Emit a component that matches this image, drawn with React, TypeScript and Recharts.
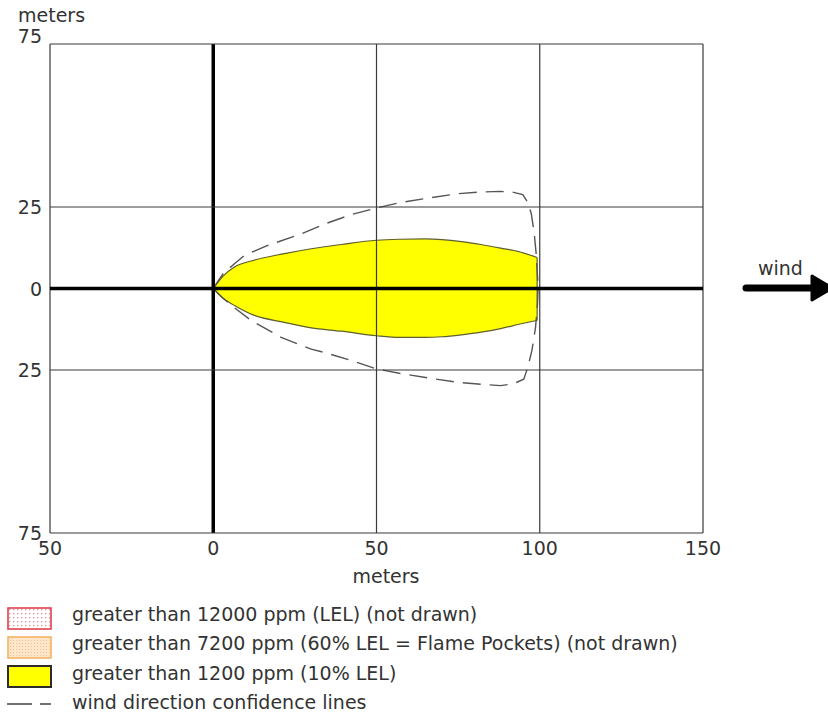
import { ComposedChart, Area, Line, XAxis, YAxis, ReferenceLine } from 'recharts'

const X_TICKS = [-50, 0, 50, 100, 150]
const Y_TICKS = [-75, -25, 0, 25, 75]

// > 1200 ppm plume: downwind distance, upper edge, lower edge (meters)
const plumeX = [0, 3, 6.5, 12.2, 21.8, 30, 39.2, 50, 57, 65, 70, 76, 82, 88, 94, 99.2]
const plumeHi = [0, 3.8, 6.6, 8.6, 10.7, 12.2, 13.5, 14.8, 15.1, 15.2, 15.0, 14.4, 13.5, 12.4, 11.2, 9.5]
const plumeLo = [0, -3, -5.2, -8.1, -10.4, -12.1, -13.1, -14.5, -15, -15, -14.8, -14.2, -13.4, -12.3, -10.9, -9.8]

// wind direction confidence lines, traced round from the source and back
const confX = [0, 3, 6.5, 9.6, 16.7, 27, 35, 42, 50, 57, 65, 75, 82, 88, 92, 94.8, 96.3, 97.4, 98.3, 98.9, 99.3, 99.5, 99.3, 98.7, 97.6, 96.4, 95.1, 92, 88, 82, 75, 65, 57, 50, 42, 34, 30, 20.8, 11.6, 6.5, 3, 0]
const confY = [0, 4.5, 7.6, 10.2, 13.2, 16.8, 20.1, 22.6, 24.7, 26.3, 27.6, 29.1, 29.6, 29.8, 29.5, 28.8, 26.5, 23, 17, 10.7, 4, 0, -5, -12, -19, -24, -27.8, -29.2, -29.8, -29.4, -28.8, -27.3, -26, -24.7, -22, -19.6, -18.6, -15, -9.8, -5.9, -3, 0]

const LEGEND = [
  'greater than 12000 ppm (LEL) (not drawn)',
  'greater than 7200 ppm (60% LEL = Flame Pockets) (not drawn)',
  'greater than 1200 ppm (10% LEL)',
  'wind direction confidence lines',
]

const FONT = 'DejaVu Sans, Verdana, sans-serif'
const TEXT = '#333'

const plume = plumeX.map((x, i) => ({ x, band: [plumeLo[i], plumeHi[i]] }))
const conf = confX.map((x, i) => ({ x, y: confY[i] }))
const last = plumeX.length - 1
const plumeEnd = [
  { x: plumeX[last], y: plumeHi[last] },
  { x: plumeX[last], y: plumeLo[last] },
]

const XTick = ({ x, y, payload }: any) => (
  <text x={x} y={y + 22} textAnchor="middle" fontSize={19} fontFamily={FONT} fill={TEXT}>
    {Math.abs(payload.value)}
  </text>
)

const YTick = ({ x, y, payload }: any) => (
  <text x={x} y={payload.value === 75 ? y - 1 : y + 7} textAnchor="end" fontSize={19} fontFamily={FONT} fill={TEXT}>
    {Math.abs(payload.value)}
  </text>
)

export default function App() {
  return (
    <div style={{ position: 'absolute', left: 0, top: 0, width: 828, height: 718, background: '#fff' }}>
      <ComposedChart width={828} height={718} margin={{ top: 44, right: 125, bottom: 145, left: 8 }}>
        <XAxis
          dataKey="x"
          type="number"
          domain={[-50, 150]}
          ticks={X_TICKS}
          interval={0}
          allowDataOverflow
          axisLine={false}
          tickLine={false}
          tickSize={0}
          tickMargin={0}
          height={40}
          tick={<XTick />}
        />
        <YAxis
          type="number"
          domain={[-75, 75]}
          ticks={Y_TICKS}
          interval={0}
          allowDataOverflow
          axisLine={false}
          tickLine={false}
          tickSize={0}
          tickMargin={8}
          width={42}
          tick={<YTick />}
        />
        <Area
          data={plume}
          dataKey="band"
          type="monotone"
          fill="#ffff00"
          fillOpacity={1}
          stroke="#5e5e2e"
          strokeWidth={1.2}
          isAnimationActive={false}
          dot={false}
          activeDot={false}
        />
        <Line
          data={plumeEnd}
          dataKey="y"
          type="linear"
          stroke="#5e5e2e"
          strokeWidth={1.2}
          dot={false}
          activeDot={false}
          isAnimationActive={false}
        />
        <Line
          data={conf}
          dataKey="y"
          type="linear"
          stroke="#555"
          strokeWidth={1.4}
          strokeDasharray="18 9"
          dot={false}
          activeDot={false}
          isAnimationActive={false}
        />
        {X_TICKS.map((t) => (
          <ReferenceLine
            key={'x' + t}
            x={t}
            stroke={t === 0 ? '#000' : '#3a3a3a'}
            strokeWidth={t === 0 ? 3.5 : 1.2}
          />
        ))}
        {Y_TICKS.map((t) => (
          <ReferenceLine
            key={'y' + t}
            y={t}
            stroke={t === 0 ? '#000' : '#3a3a3a'}
            strokeWidth={t === 0 ? 3.5 : 1.2}
          />
        ))}
      </ComposedChart>

      <svg
        width={828}
        height={718}
        style={{ position: 'absolute', left: 0, top: 0, pointerEvents: 'none' }}
        fontFamily={FONT}
      >
        <defs>
          <pattern id="dotsRed" width="4" height="4" patternUnits="userSpaceOnUse">
            <rect width="4" height="4" fill="#fff" />
            <rect x="1" y="1" width="1.3" height="1.3" fill="#e88a96" />
          </pattern>
          <pattern id="dotsOrange" width="3" height="3" patternUnits="userSpaceOnUse">
            <rect width="3" height="3" fill="#fde6c9" />
            <rect x="1" y="1" width="1" height="1" fill="#f2c08a" />
          </pattern>
        </defs>

        <text x={18} y={22} fontSize={19} fill={TEXT}>meters</text>
        <text x={386} y={583} fontSize={19} fill={TEXT} textAnchor="middle">meters</text>

        <text x={758} y={275} fontSize={19} fill={TEXT}>wind</text>
        <line x1={746} y1={288} x2={814} y2={288} stroke="#000" strokeWidth={7} strokeLinecap="round" />
        <polygon points="812,276 832,288 812,300" fill="#000" stroke="#000" strokeWidth={3} strokeLinejoin="round" />

        <rect x={8} y={608} width={43} height={21} fill="url(#dotsRed)" stroke="#e0404f" strokeWidth={1.6} />
        <rect x={8} y={637} width={43} height={21} fill="url(#dotsOrange)" stroke="#f4b466" strokeWidth={1.6} />
        <rect x={8} y={666} width={43} height={21} fill="#ffff00" stroke="#2b2b2b" strokeWidth={2} />
        <line x1={7} y1={704} x2={51} y2={704} stroke="#444" strokeWidth={1.4} strokeDasharray="25 8" />

        {LEGEND.map((label, i) => (
          <text key={label} x={72} y={621 + i * 29.4} fontSize={19} fill={TEXT}>
            {label}
          </text>
        ))}
      </svg>
    </div>
  )
}
